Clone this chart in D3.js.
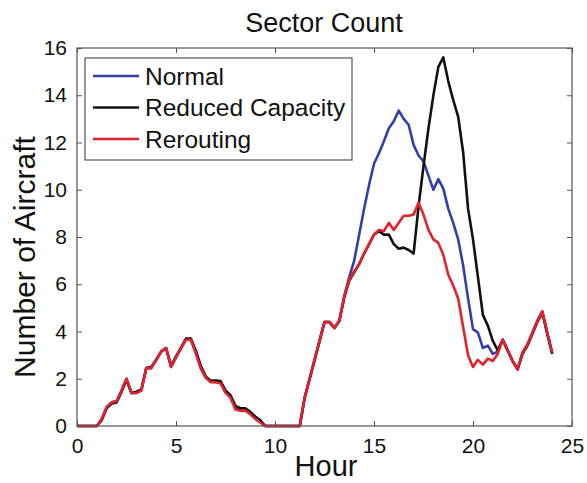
<!DOCTYPE html>
<html>
<head>
<meta charset="utf-8">
<script src="https://cdn.jsdelivr.net/npm/d3@7"></script>
<style>
  html, body { margin: 0; padding: 0; background: #fff; }
  svg { display: block; font-family: "Liberation Sans", Arial, sans-serif; }
</style>
</head>
<body>
<svg id="chart" width="587" height="483"></svg>
<script>
// Sector count sampled every quarter hour, 0:00 to 24:00
const hours = d3.range(0, 24.001, 0.25);

const normal = [
  0, 0, 0, 0, 0, 0.3, 0.8, 1.0, 1.05, 1.5, 2.0, 1.4, 1.4, 1.5, 2.45, 2.45,
  2.8, 3.15, 3.3, 2.5, 2.9, 3.3, 3.65, 3.65, 3.1, 2.45, 2.05, 1.88, 1.88, 1.85, 1.45, 1.25,
  0.8, 0.7, 0.7, 0.55, 0.35, 0.2, 0, 0, 0, 0, 0, 0, 0, 0, 1.2, 2.0,
  2.8, 3.6, 4.4, 4.4, 4.15, 4.45, 5.5, 6.3, 7.0, 8.1, 9.2, 10.2, 11.1, 11.55, 12.05, 12.6,
  12.9, 13.35, 13.0, 12.75, 11.9, 11.45, 11.2, 10.6, 10.0, 10.45, 10.05, 9.2, 8.6, 7.9, 6.8, 5.4,
  4.1, 3.95, 3.3, 3.4, 3.05, 3.15, 3.65, 3.2, 2.75, 2.4, 3.1, 3.45, 3.95, 4.45, 4.85, 3.95,
  3.1
];

const reducedCapacity = [
  0, 0, 0, 0, 0, 0.25, 0.75, 0.95, 1.0, 1.45, 1.95, 1.4, 1.45, 1.55, 2.45, 2.5,
  2.8, 3.15, 3.3, 2.55, 2.95, 3.3, 3.7, 3.7, 3.2, 2.55, 2.1, 1.92, 1.92, 1.9, 1.5, 1.3,
  0.85, 0.75, 0.75, 0.6, 0.4, 0.25, 0, 0, 0, 0, 0, 0, 0, 0, 1.2, 2.0,
  2.8, 3.6, 4.4, 4.4, 4.15, 4.45, 5.45, 6.15, 6.5, 6.85, 7.3, 7.7, 8.1, 8.25, 8.1, 8.1,
  7.7, 7.5, 7.55, 7.45, 7.3, 9.3, 11.0, 12.6, 14.0, 15.2, 15.6, 14.6, 13.8, 13.1, 11.6, 9.2,
  7.9, 6.3, 4.7, 4.25, 3.6, 3.2, 3.65, 3.2, 2.75, 2.4, 3.05, 3.4, 3.9, 4.4, 4.8, 3.9,
  3.05
];

const rerouting = [
  0, 0, 0, 0, 0, 0.3, 0.8, 1.0, 1.05, 1.5, 2.0, 1.4, 1.4, 1.5, 2.45, 2.45,
  2.8, 3.15, 3.3, 2.5, 2.9, 3.3, 3.65, 3.65, 3.1, 2.45, 2.05, 1.85, 1.85, 1.8, 1.4, 1.2,
  0.7, 0.65, 0.65, 0.5, 0.3, 0.15, 0, 0, 0, 0, 0, 0, 0, 0, 1.2, 2.0,
  2.8, 3.6, 4.4, 4.4, 4.15, 4.45, 5.5, 6.2, 6.55, 6.85, 7.3, 7.7, 8.1, 8.3, 8.25, 8.6,
  8.3, 8.6, 8.9, 8.9, 8.95, 9.45, 8.95, 8.3, 7.9, 7.75, 7.25, 6.4, 5.95, 5.4, 4.2, 3.0,
  2.5, 2.8, 2.6, 2.85, 2.75, 3.05, 3.65, 3.2, 2.75, 2.4, 3.1, 3.45, 3.95, 4.45, 4.85, 3.95,
  3.1
];

const seriesNames = ["Normal", "Reduced Capacity", "Rerouting"];
const seriesColors = ["#3040a8", "#111111", "#e3222b"];
const seriesValues = [normal, reducedCapacity, rerouting];

const xTicks = [0, 5, 10, 15, 20, 25];
const yTicks = [0, 2, 4, 6, 8, 10, 12, 14, 16];

const W = 587, H = 483;
const margin = { top: 48, right: 15, bottom: 57, left: 77 };
const iw = W - margin.left - margin.right;
const ih = H - margin.top - margin.bottom;

const svg = d3.select("#chart");
const g = svg.append("g").attr("transform", `translate(${margin.left},${margin.top})`);

const x = d3.scaleLinear().domain([0, 25]).range([0, iw]);
const y = d3.scaleLinear().domain([0, 16]).range([ih, 0]);

// Data lines
const line = d3.line().x((d, i) => x(hours[i])).y(d => y(d));
seriesValues.forEach((vals, k) => {
  g.append("path")
    .datum(vals)
    .attr("fill", "none")
    .attr("stroke", seriesColors[k])
    .attr("stroke-width", 2.6)
    .attr("stroke-linejoin", "round")
    .attr("d", line);
});

// Axes with inward ticks on all four sides
const tickLen = 5;
const axisColor = "#555";
const styleAxis = sel => {
  sel.select(".domain").remove();
  sel.selectAll(".tick line").attr("stroke", axisColor).attr("stroke-width", 1);
  sel.selectAll(".tick text").attr("fill", "#111").attr("font-size", 21)
    .attr("font-family", "'Liberation Sans', Arial, sans-serif");
};

g.append("g").attr("transform", `translate(0,${ih})`)
  .call(d3.axisBottom(x).tickValues(xTicks).tickSizeInner(-tickLen).tickSizeOuter(0).tickPadding(12))
  .call(styleAxis);
g.append("g")
  .call(d3.axisTop(x).tickValues(xTicks).tickSizeInner(-tickLen).tickSizeOuter(0).tickFormat(""))
  .call(styleAxis);
g.append("g")
  .call(d3.axisLeft(y).tickValues(yTicks).tickSizeInner(-tickLen).tickSizeOuter(0).tickPadding(10))
  .call(styleAxis);
g.append("g").attr("transform", `translate(${iw},0)`)
  .call(d3.axisRight(y).tickValues(yTicks).tickSizeInner(-tickLen).tickSizeOuter(0).tickFormat(""))
  .call(styleAxis);

g.append("rect")
  .attr("width", iw).attr("height", ih)
  .attr("fill", "none").attr("stroke", axisColor).attr("stroke-width", 1.2);

// Title and axis labels
svg.append("text")
  .attr("x", 324).attr("y", 32)
  .attr("text-anchor", "middle").attr("font-size", 27).attr("fill", "#111")
  .text("Sector Count");
svg.append("text")
  .attr("x", 326).attr("y", 476)
  .attr("text-anchor", "middle").attr("font-size", 29).attr("fill", "#111")
  .text("Hour");
svg.append("text")
  .attr("transform", "translate(35,257) rotate(-90)")
  .attr("text-anchor", "middle").attr("font-size", 30).attr("fill", "#111")
  .text("Number of Aircraft");

// Legend
const legend = svg.append("g").attr("transform", "translate(85,58)");
legend.append("rect")
  .attr("width", 267).attr("height", 102)
  .attr("fill", "#fff").attr("stroke", axisColor).attr("stroke-width", 1.2);
seriesNames.forEach((name, k) => {
  const cy = 18 + k * 31.5;
  legend.append("line")
    .attr("x1", 8).attr("x2", 54).attr("y1", cy).attr("y2", cy)
    .attr("stroke", seriesColors[k]).attr("stroke-width", 2.6);
  legend.append("text")
    .attr("x", 60).attr("y", cy).attr("dy", "0.36em")
    .attr("font-size", 24.5).attr("fill", "#111")
    .text(name);
});
</script>
</body>
</html>
